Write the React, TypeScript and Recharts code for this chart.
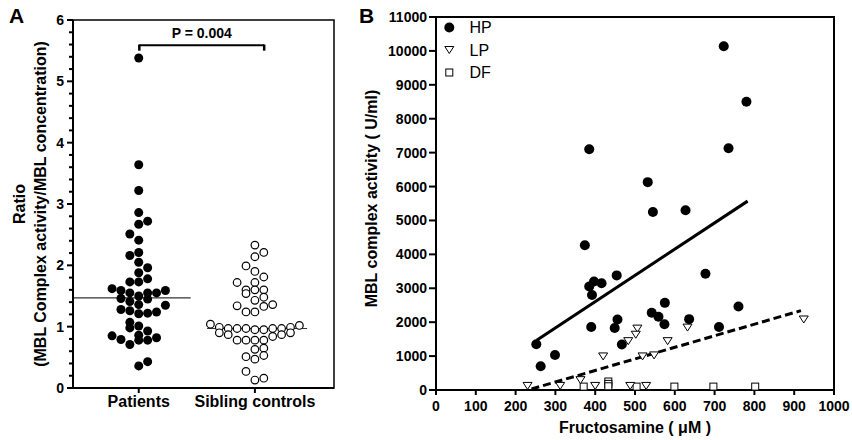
import React from "react";
import {
  ScatterChart,
  Scatter,
  XAxis,
  YAxis,
  ReferenceLine,
  ReferenceArea,
  Legend,
  Label,
} from "recharts";

// ---- panel A: ratio per group (value + column slot in the dot plot)
const groups = ["Patients", "Sibling controls"];
const patientRatio = [
  5.38, 3.64, 3.22, 2.86, 2.67, 2.72, 2.51, 2.41, 2.16, 2.21, 2.05, 1.88, 1.96,
  1.73, 1.73, 1.78, 1.62, 1.59, 1.55, 1.5, 1.55, 1.55, 1.59, 1.46, 1.41, 1.36,
  1.45, 1.35, 1.28, 1.26, 1.21, 1.22, 1.24, 1.07, 0.98, 1.01, 0.93, 0.85, 0.79,
  0.71, 0.86, 0.78, 0.78, 0.82, 0.36, 0.43,
];
const patientSlot = [
  0, 0, 0, 0, 0, 1, -1, 0, -1, 0, 0, 0, 1, -1, 0, 1, -3, -2, -1, 0, 1, 2, 3, -2,
  -1, 0, 1, 3, -2, -1, 0, 1, 2, -1, -1, 0, 1, -3, -2, -1, 0, 0, 1, 2, 0, 1,
];
const controlRatio = [
  2.33, 2.14, 2.21, 1.99, 1.9, 1.81, 1.72, 1.72, 1.6, 1.6, 1.6, 1.54, 1.43,
  1.48, 1.34, 1.33, 1.36, 1.24, 1.24, 1.04, 0.99, 0.97, 0.97, 0.97, 0.95, 0.95,
  0.97, 0.97, 0.99, 1.02, 0.9, 0.87, 0.84, 0.87, 0.9, 0.78, 0.78, 0.78, 0.78,
  0.63, 0.65, 0.51, 0.47, 0.53, 0.27, 0.13, 0.16,
];
const controlSlot = [
  0, 0, 1, -1, 0, 1, -2, 0, -1, 0, 1, -1, 0, 1, -2, 1, 2, -1, 0, -5, -4, -3, -2,
  -1, 0, 1, 2, 3, 4, 5, -4, -3, 2, 3, 4, -2, -1, 0, 1, 0, 1, -1, 0, 1, -1, 0, 1,
];
const medianRatio = [1.47, 0.97];
const pText = "P = 0.004";

// ---- panel B: fructosamine (uM) vs MBL complex activity (U/ml)
const hpFructosamine = [
  723, 780, 385, 735, 532, 545, 627, 374, 454, 677, 385, 397, 416, 392, 575,
  760, 542, 559, 456, 636, 449, 574, 390, 711, 467, 252, 299, 263,
];
const hpActivity = [
  10140, 8500, 7100, 7130, 6130, 5250, 5300, 4270, 3380, 3430, 3050, 3200, 3150,
  2800, 2570, 2460, 2280, 2160, 2080, 2090, 1830, 1940, 1860, 1860, 1340, 1350,
  1030, 700,
];
const lpFructosamine = [
  230, 312, 363, 400, 420, 483, 506, 502, 488, 519, 528, 548, 582, 632, 924,
];
const lpActivity = [
  120, 120, 290, 120, 990, 1440, 1810, 1630, 120, 990, 120, 1020, 1440, 1840,
  2080,
];
const dfFructosamine = [371, 433, 433, 433, 504, 599, 697, 802];
const dfActivity = [100, 250, 180, 110, 100, 100, 100, 100];
const hpFit = [
  { x: 253, y: 1470 },
  { x: 783, y: 5570 },
];
const lpFit = [
  { x: 240, y: 30 },
  { x: 917, y: 2340 },
];
const xTicksB = [0, 100, 200, 300, 400, 500, 600, 700, 800, 900, 1000];
const yTicksB = [0, 1000, 2000, 3000, 4000, 5000, 6000, 7000, 8000, 9000, 10000, 11000];

const FONT = "'Liberation Sans', Arial, Helvetica, sans-serif";
const SLOT = 0.0766;
const A_MIN = 0.434;
const A_MAX = 2.681;

const patients = patientRatio.map((y, i) => ({ x: 1 + patientSlot[i] * SLOT, y }));
const controls = controlRatio.map((y, i) => ({ x: 2 + controlSlot[i] * SLOT, y }));
const hp = hpFructosamine.map((x, i) => ({ x, y: hpActivity[i] }));
const lp = lpFructosamine.map((x, i) => ({ x, y: lpActivity[i] }));
const df = dfFructosamine.map((x, i) => ({ x, y: dfActivity[i] }));

const yTicksA = Array.from({ length: 31 }, (_, i) => Math.round(i * 2) / 10);

const tickFont = { fontFamily: FONT, fontWeight: 700, fontSize: 14, fill: "#000" };

// y ticks of panel A: long ticks + label on integers, short minor ticks
const RatioTick = (props: any) => {
  const { x, y, payload } = props;
  const axisX = x + 8;
  const major = Math.abs(payload.value - Math.round(payload.value)) < 1e-6;
  return (
    <g>
      <line x1={axisX - (major ? 6 : 4)} y1={y} x2={axisX} y2={y} stroke="#000" strokeWidth={2} />
      {major && (
        <text x={x - 1} y={y} dy="0.36em" textAnchor="end" {...tickFont}>
          {payload.value}
        </text>
      )}
    </g>
  );
};

const RatioLabel = (props: any) => {
  const cy = props.viewBox.y + props.viewBox.height / 2;
  const st = { fontFamily: FONT, fontWeight: 700, fontSize: 16, fill: "#000" };
  return (
    <g>
      <text x={19.5} y={cy} transform={`rotate(-90, 19.5, ${cy})`} textAnchor="middle" dominantBaseline="central" {...st}>
        Ratio
      </text>
      <text x={40.5} y={cy} transform={`rotate(-90, 40.5, ${cy})`} textAnchor="middle" dominantBaseline="central" {...st}>
        (MBL Complex activity/MBL concentration)
      </text>
    </g>
  );
};

const ActivityLabel = (props: any) => {
  const cy = props.viewBox.y + props.viewBox.height / 2 - 5;
  const x = props.viewBox.x + 31.5;
  return (
    <text x={x} y={cy} transform={`rotate(-90, ${x}, ${cy})`} textAnchor="middle" dominantBaseline="central"
      fontFamily={FONT} fontWeight={700} fontSize={16} fill="#000">
      MBL complex activity ( U/ml)
    </text>
  );
};

const filledDot = (r: number) => (p: any) => <circle cx={p.cx} cy={p.cy} r={r} fill="#000" />;
const openDot = (p: any) => <circle cx={p.cx} cy={p.cy} r={3.8} fill="#fff" stroke="#000" strokeWidth={1.2} />;
const triDown = (p: any) => (
  <path
    d={`M${p.cx - 4.5},${p.cy - 3.5}L${p.cx + 4.5},${p.cy - 3.5}L${p.cx},${p.cy + 3.5}Z`}
    fill="#fff"
    stroke="#000"
    strokeWidth={1}
  />
);
const squareMark = (p: any) => (
  <rect x={p.cx - 3.5} y={p.cy - 3.5} width={7} height={7} fill="#fff" stroke="#000" strokeWidth={1} />
);

const legendItems = [
  { name: "HP", icon: (x: number, y: number) => <circle cx={x} cy={y} r={5} fill="#000" /> },
  { name: "LP", icon: (x: number, y: number) => triDown({ cx: x, cy: y }) },
  { name: "DF", icon: (x: number, y: number) => squareMark({ cx: x, cy: y }) },
];

const GroupLegend = () => (
  <svg width={70} height={70}>
    {legendItems.map((it, i) => (
      <g key={it.name}>
        {it.icon(9.3, 11.5 + i * 22.5)}
        <text x={29.5} y={11.5 + i * 22.5} dominantBaseline="central" fontFamily={FONT} fontSize={16} fill="#000">
          {it.name}
        </text>
      </g>
    ))}
  </svg>
);

const PanelLetter = ({ text, left }: { text: string; left: number }) => (
  <div
    style={{
      position: "absolute",
      left,
      top: 4,
      fontFamily: "'Liberation Sans Narrow', 'Arial Narrow', sans-serif",
      fontWeight: 700,
      fontSize: 21,
      lineHeight: "24px",
      color: "#000",
    }}
  >
    {text}
  </div>
);

export default function App() {
  return (
    <div style={{ position: "absolute", left: 0, top: 0, width: 852, height: 440, background: "#fff" }}>
      <div style={{ position: "absolute", left: 0, top: 0 }}>
        <ScatterChart width={340} height={440} margin={{ top: 20, right: 6, bottom: 0, left: 0 }}>
          <XAxis
            type="number"
            dataKey="x"
            domain={[A_MIN, A_MAX]}
            ticks={[1, 2]}
            interval={0}
            allowDataOverflow
            tickFormatter={(v: number) => groups[Math.round(v) - 1]}
            height={52}
            tickSize={5}
            tickMargin={3}
            stroke="#000"
            axisLine={{ stroke: "#000", strokeWidth: 2 }}
            tickLine={{ stroke: "#000", strokeWidth: 2 }}
            tick={{ ...tickFont, fontSize: 16 }}
          />
          <YAxis
            type="number"
            dataKey="y"
            domain={[0, 6]}
            ticks={yTicksA}
            interval={0}
            width={73}
            tickSize={6}
            tickMargin={2}
            tickLine={false}
            axisLine={{ stroke: "#000", strokeWidth: 2 }}
            tick={<RatioTick />}
          >
            <Label content={RatioLabel} />
          </YAxis>
          <ReferenceArea x1={A_MIN} x2={A_MAX} y1={0} y2={6} fill="none" stroke="#000" strokeWidth={1.5} />
          <ReferenceLine
            segment={[{ x: 0.434, y: medianRatio[0] }, { x: 1.447, y: medianRatio[0] }]}
            stroke="#333"
            strokeWidth={1.2}
          />
          <ReferenceLine
            segment={[{ x: 1.588, y: medianRatio[1] }, { x: 2.449, y: medianRatio[1] }]}
            stroke="#333"
            strokeWidth={1.2}
          />
          <ReferenceLine segment={[{ x: 1.005, y: 5.59 }, { x: 2.08, y: 5.59 }]} stroke="#000" strokeWidth={2} ifOverflow="visible">
            <Label value={pText} position="top" offset={7} fontFamily={FONT} fontWeight={700} fontSize={14} fill="#000" />
          </ReferenceLine>
          <ReferenceLine segment={[{ x: 1.005, y: 5.6 }, { x: 1.005, y: 5.5 }]} stroke="#000" strokeWidth={2.5} />
          <ReferenceLine segment={[{ x: 2.08, y: 5.6 }, { x: 2.08, y: 5.5 }]} stroke="#000" strokeWidth={2.5} />
          <Scatter name={groups[0]} data={patients} shape={filledDot(4.5)} isAnimationActive={false} />
          <Scatter name={groups[1]} data={controls} shape={openDot} isAnimationActive={false} />
        </ScatterChart>
      </div>
      <div style={{ position: "absolute", left: 340, top: 0 }}>
        <ScatterChart width={512} height={440} margin={{ top: 17, right: 18, bottom: 0, left: 0 }}>
          <XAxis
            type="number"
            dataKey="x"
            domain={[0, 1000]}
            ticks={xTicksB}
            interval={0}
            height={50}
            tickSize={5}
            tickMargin={6}
            axisLine={{ stroke: "#000", strokeWidth: 2 }}
            tickLine={{ stroke: "#000", strokeWidth: 2 }}
            tick={tickFont}
          >
            <Label
              value="Fructosamine ( μM )"
              position="insideBottom"
              offset={7}
              fontFamily={FONT}
              fontWeight={700}
              fontSize={16}
              fill="#000"
            />
          </XAxis>
          <YAxis
            type="number"
            dataKey="y"
            domain={[0, 11000]}
            ticks={yTicksB}
            interval={0}
            width={96}
            tickSize={7}
            tickMargin={2}
            axisLine={{ stroke: "#000", strokeWidth: 2 }}
            tickLine={{ stroke: "#000", strokeWidth: 2 }}
            tick={tickFont}
          >
            <Label content={ActivityLabel} />
          </YAxis>
          <ReferenceArea x1={0} x2={1000} y1={0} y2={11000} fill="none" stroke="#000" strokeWidth={2} />
          <ReferenceLine segment={hpFit} stroke="#000" strokeWidth={3} />
          <ReferenceLine segment={lpFit} stroke="#000" strokeWidth={3} strokeDasharray="8 4" />
          <Scatter name="DF" data={df} shape={squareMark} isAnimationActive={false} />
          <Scatter name="LP" data={lp} shape={triDown} isAnimationActive={false} />
          <Scatter name="HP" data={hp} shape={filledDot(5)} isAnimationActive={false} />
          <Legend
            layout="vertical"
            align="center"
            verticalAlign="middle"
            content={<GroupLegend />}
            wrapperStyle={{ left: 100, top: 16, width: 70, height: 70 }}
          />
        </ScatterChart>
      </div>
      <PanelLetter text="A" left={9} />
      <PanelLetter text="B" left={359} />
    </div>
  );
}
